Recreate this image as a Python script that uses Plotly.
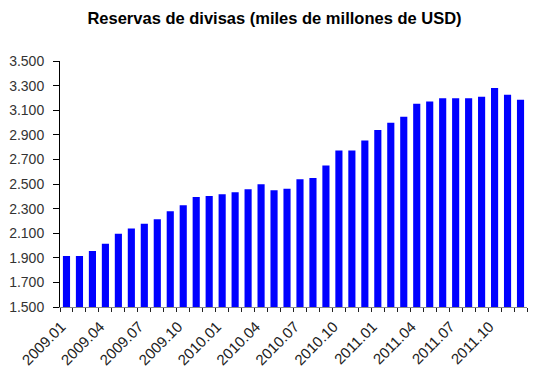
import plotly.graph_objects as go

categories = [f"{y}.{m:02d}" for y in (2009, 2010, 2011) for m in range(1, 13)]
reserves = [1915, 1915, 1955, 2015, 2096, 2139, 2176, 2214, 2279, 2327, 2395, 2403,
            2416, 2432, 2457, 2497, 2449, 2462, 2538, 2548, 2651, 2772, 2772, 2853,
            2939, 2998, 3047, 3152, 3171, 3198, 3198, 3198, 3209, 3281, 3225, 3184]
y_ticks = [1500, 1700, 1900, 2100, 2300, 2500, 2700, 2900, 3100, 3300, 3500]
title = "Reservas de divisas (miles de millones de USD)"

idx = list(range(len(categories)))
label_idx = idx[::3]

fig = go.Figure(go.Bar(x=idx, y=reserves, marker=dict(color="#0000FF", line=dict(width=0)),
                       width=0.55))

font = "Liberation Sans, Arial, sans-serif"
fig.update_layout(
    width=533, height=372,
    margin=dict(l=60, r=6, t=61, b=65),
    paper_bgcolor="white", plot_bgcolor="white",
    separators=",.",
    showlegend=False,
    title=dict(text="<b>" + title + "</b>", x=0.515, xanchor="center", y=0.952, yanchor="middle",
               font=dict(family=font, size=16.5, color="black")),
    font=dict(family=font, size=13, color="#222"),
)
fig.update_xaxes(
    automargin=False,
    range=[-0.5, len(categories) - 0.5],
    tickmode="array", tickvals=[i - 0.4 for i in label_idx],
    ticktext=[categories[i] for i in label_idx],
    tickangle=-45, ticks="", showgrid=False, zeroline=False,
    showline=True, linecolor="#888", linewidth=1,
    ticklabelstandoff=4,
    tickfont=dict(size=15, color="#222"),
    minor=dict(ticks="outside", tick0=-0.5, dtick=1, ticklen=4, tickcolor="#222", showgrid=False),
)
fig.update_yaxes(
    automargin=False,
    range=[1500, 3500], tickmode="array", tickvals=y_ticks,
    tickformat=",d", ticks="outside", ticklen=6, tickcolor="black",
    ticklabelstandoff=6,
    showgrid=False, zeroline=False, showline=True, linecolor="black", linewidth=1,
    tickfont=dict(size=14, color="#333"),
)
fig.write_html("out.html", config={"displayModeBar": False},
               post_script="document.body.style.margin='0';")
